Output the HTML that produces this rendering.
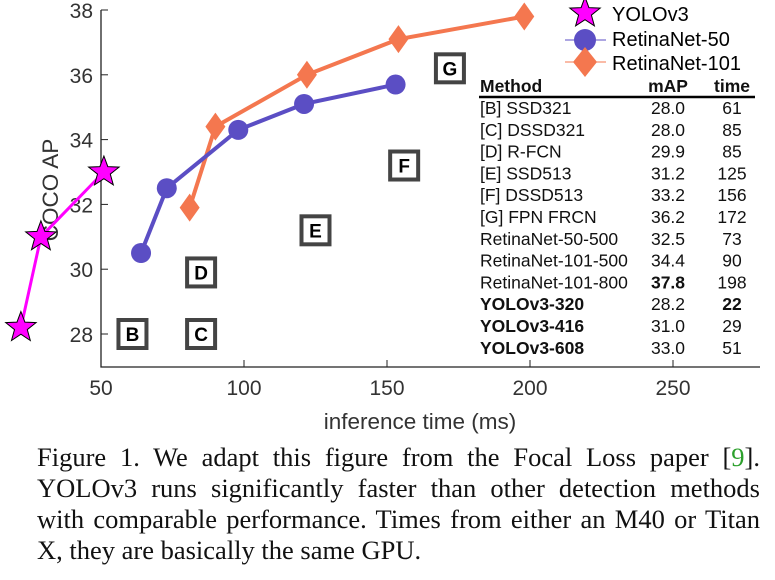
<!DOCTYPE html>
<html><head><meta charset="utf-8"><style>
body{margin:0;background:#fff;width:775px;height:580px;overflow:hidden}
svg{position:absolute;left:0;top:0}
.cap{position:absolute;left:37px;top:442px;width:723px;font-family:"Liberation Serif",serif;font-size:26.5px;line-height:31px;text-align:justify;color:#111}
</style></head><body>
<svg id="chart" width="775" height="440" font-family="Liberation Sans, sans-serif"></svg>
<div class="cap">Figure 1. We adapt this figure from the Focal Loss paper [<span style="color:#2ca02c">9</span>]. YOLOv3 runs significantly faster than other detection methods with comparable performance. Times from either an M40 or Titan X, they are basically the same GPU.</div>
<script>
const yoloTime=[22,29,51], yoloAP=[28.2,31.0,33.0];
const r50Time=[64,73,98,121,153], r50AP=[30.5,32.5,34.3,35.1,35.7];
const r101Time=[81,90,122,154,198], r101AP=[31.9,34.4,36.0,37.1,37.8];
const boxLabels=["B","C","D","E","F","G"], boxTime=[61,85,85,125,156,172], boxAP=[28.0,28.0,29.9,31.2,33.2,36.2];
const xTicks=[50,100,150,200,250], yTicks=[28,30,32,34,36,38];
const tMethods=["[B] SSD321","[C] DSSD321","[D] R-FCN","[E] SSD513","[F] DSSD513","[G] FPN FRCN","RetinaNet-50-500","RetinaNet-101-500","RetinaNet-101-800","YOLOv3-320","YOLOv3-416","YOLOv3-608"];
const tMAP=["28.0","28.0","29.9","31.2","33.2","36.2","32.5","34.4","37.8","28.2","31.0","33.0"];
const tTime=["61","85","85","125","156","172","73","90","198","22","29","51"];
const boldM=[9,10,11], boldMap=[8], boldTime=[9];

const X=v=>101+(v-50)*2.86, Y=v=>10+(38-v)*32.4;
const svg=document.getElementById('chart');const NS='http://www.w3.org/2000/svg';
function mk(t,a,p){const e=document.createElementNS(NS,t);for(const k in a)e.setAttribute(k,a[k]);(p||svg).appendChild(e);return e;}
function txt(s,a){const e=mk('text',a);e.textContent=s;return e;}
function star(cx,cy,r){let p=[];for(let i=0;i<10;i++){const rr=i%2?r*0.42:r,a=-Math.PI/2+i*Math.PI/5;p.push((cx+rr*Math.cos(a)).toFixed(1)+','+(cy+rr*Math.sin(a)).toFixed(1));}return p.join(' ');}
function diamond(cx,cy,w,h){return `${cx},${cy-h} ${cx+w},${cy} ${cx},${cy+h} ${cx-w},${cy}`;}

let a=mk('path',{d:'M101,10 V367 H760',fill:'none',stroke:'#222','stroke-width':1.3});

yTicks.forEach(v=>{let l=mk('line',{x1:101,x2:108,y1:Y(v),y2:Y(v),stroke:'#222'});
 let t=txt(v,{x:93,y:Y(v)+8,'text-anchor':'end','font-size':21,fill:'#333'});});
xTicks.forEach(v=>{let l=mk('line',{x1:X(v),x2:X(v),y1:367,y2:360,stroke:'#222'});
 let t=txt(v,{x:X(v),y:395,'text-anchor':'middle','font-size':21,fill:'#333'});});
let xt=txt('inference time (ms)',{x:420,y:429,'text-anchor':'middle','font-size':22.5,fill:'#333'});
let yt=txt('COCO AP',{x:0,y:0,'text-anchor':'middle','font-size':22.5,fill:'#333',transform:'translate(58,190) rotate(-90)'});

boxLabels.forEach((s,i)=>{const g=mk('g',{});
 mk('rect',{x:X(boxTime[i])-14,y:Y(boxAP[i])-14,width:28,height:28,fill:'#fff',stroke:'#444','stroke-width':4},g);
 const t=mk('text',{x:X(boxTime[i]),y:Y(boxAP[i])+7,'text-anchor':'middle','font-size':19,'font-weight':'bold',fill:'#000'},g);t.textContent=s;});

function line(xs,ys,col,w,name){let p=mk('polyline',{points:xs.map((v,i)=>X(v)+','+Y(ys[i])).join(' '),fill:'none',stroke:col,'stroke-width':w});}
line(r101Time,r101AP,'#f4774f',4,'retinanet-101-line');
r101Time.forEach((v,i)=>{let d=mk('polygon',{points:diamond(X(v),Y(r101AP[i]),10,14),fill:'#f4774f'});});
line(r50Time,r50AP,'#5b4ec4',4,'retinanet-50-line');
r50Time.forEach((v,i)=>{let c=mk('circle',{cx:X(v),cy:Y(r50AP[i]),r:10,fill:'#5b4ec4'});});
line(yoloTime,yoloAP,'#f0f',3,'yolov3-line');
yoloTime.forEach((v,i)=>{let s=mk('polygon',{points:star(X(v),Y(yoloAP[i]),16),fill:'#f0f',stroke:'#000','stroke-width':1});});

const lg=mk('g',{});
mk('polygon',{points:star(585,13,16),fill:'#f0f',stroke:'#000','stroke-width':1},lg);
mk('line',{x1:565,x2:606,y1:40,y2:40,stroke:'#5b4ec4'},lg);mk('circle',{cx:585,cy:40,r:11,fill:'#5b4ec4'},lg);
mk('line',{x1:565,x2:606,y1:62,y2:62,stroke:'#f4774f'},lg);mk('polygon',{points:diamond(585,62,12,15),fill:'#f4774f'},lg);
[['YOLOv3',21],['RetinaNet-50',46],['RetinaNet-101',70]].forEach(([s,y])=>{const t=mk('text',{x:612,y:y,'font-size':20,fill:'#000'},lg);t.textContent=s;});

const tb=mk('g',{'font-size':17.5,fill:'#111'});
[['Method',480,'start'],['mAP',668,'middle'],['time',732,'middle']].forEach(([s,x,an])=>{const t=mk('text',{x:x,y:92,'text-anchor':an,'font-weight':'bold'},tb);t.textContent=s;});
mk('line',{x1:479,x2:755,y1:97,y2:97,stroke:'#000','stroke-width':2.5},tb);
tMethods.forEach((m,i)=>{const y=114+i*21.8;
 let t=mk('text',{x:480,y:y,'font-weight':boldM.includes(i)?'bold':'normal'},tb);t.textContent=m;
 t=mk('text',{x:668,y:y,'text-anchor':'middle','font-weight':boldMap.includes(i)?'bold':'normal'},tb);t.textContent=tMAP[i];
 t=mk('text',{x:732,y:y,'text-anchor':'middle','font-weight':boldTime.includes(i)?'bold':'normal'},tb);t.textContent=tTime[i];});
</script>
</body></html>
